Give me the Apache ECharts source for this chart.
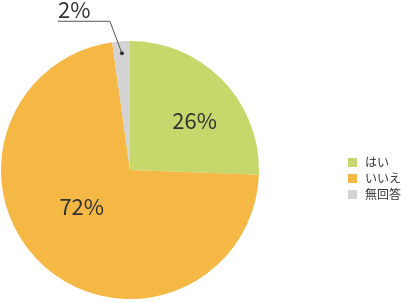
<!DOCTYPE html>
<html><head><meta charset="utf-8">
<script src="https://cdn.jsdelivr.net/npm/echarts@6/dist/echarts.min.js"></script>
<style>html,body{margin:0;padding:0;background:#fff}#c{width:401px;height:302px}</style>
</head><body><div id="c"></div>
<script>
const categories = ['はい', 'いいえ', '無回答'];
const values = [25.6, 72.2, 2.2];
const colors = ['#c6d86c', '#f5b845', '#d3d3d3'];

const FONT = '"Noto Sans CJK JP", "Noto Sans", sans-serif';
const CX = 130, CY = 170, R = 129;
const total = values.reduce((a, b) => a + b, 0);

// angle (ECharts convention, degrees counterclockwise from +x) of mid of slice i
function midAngle(i) {
  let before = 0;
  for (let k = 0; k < i; k++) before += values[k];
  const frac = (before + values[i] / 2) / total;
  return (90 - frac * 360) * Math.PI / 180;
}
const outIdx = 2;
const a = midAngle(outIdx);
const dot = [CX + 117 * Math.cos(a), CY - 117 * Math.sin(a)];
const elbow = [dot[0] - 12, dot[1] - 32];
const lineEnd = [elbow[0] - 52, elbow[1]];

const labelOffsets = [[16, -3], [-3, -13], [0, 0]];

const data = categories.map((name, i) => {
  const item = { name: name, value: values[i], itemStyle: { color: colors[i] } };
  item.label = { position: 'inside', offset: labelOffsets[i] };
  item.labelLine = { show: false };
  return item;
});

const chart = echarts.init(document.getElementById('c'), null, { renderer: 'canvas' });
chart.setOption({
  animation: false,
  legend: {
    orient: 'vertical',
    left: 343,
    top: 151.5,
    itemWidth: 9,
    itemHeight: 9,
    itemGap: 4,
    icon: 'rect',
    data: categories,
    textStyle: { fontFamily: FONT, fontSize: 12, color: '#333', lineHeight: 12, padding: [0, 0, 0, 3] }
  },
  graphic: [{
    type: 'polyline', z: 100,
    shape: { points: [dot, elbow, lineEnd] },
    style: { stroke: '#555', lineWidth: 1, fill: null }
  }, {
    type: 'circle', z: 101,
    shape: { cx: dot[0], cy: dot[1], r: 2 },
    style: { fill: '#333' }
  }],
  series: [{
    type: 'pie',
    center: [CX, CY],
    radius: R,
    startAngle: 90,
    clockwise: true,
    silent: true,
    label: {
      show: true,
      formatter: p => Math.round(p.value) + '%',
      fontFamily: FONT,
      fontSize: 22,
      color: '#333'
    },
    labelLayout: function (params) {
      if (params.dataIndex !== outIdx) return {};
      return {
        x: lineEnd[0],
        y: lineEnd[1] - 12,
        align: 'left',
        verticalAlign: 'middle'
      };
    },
    data: data
  }]
});
</script>
</body></html>
